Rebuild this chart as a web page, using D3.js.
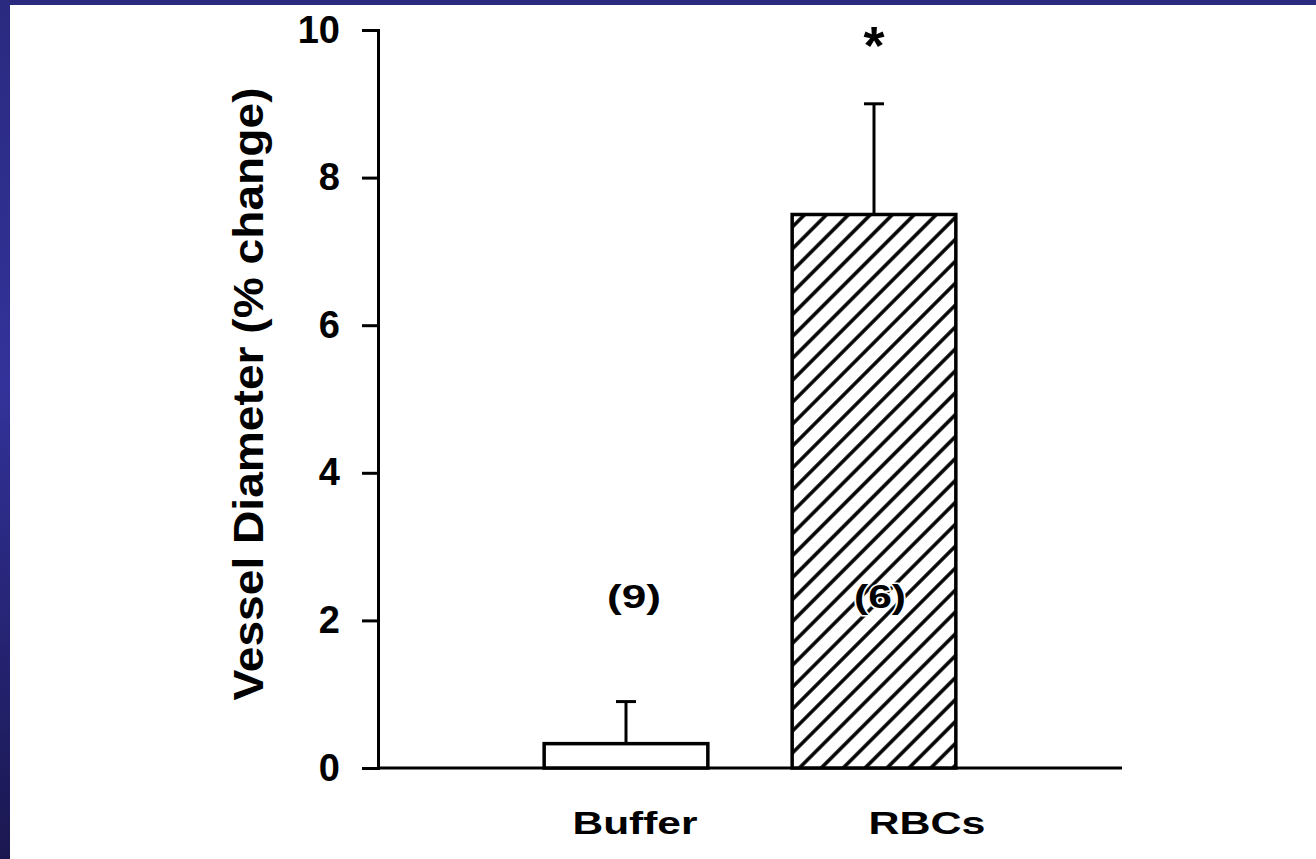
<!DOCTYPE html>
<html>
<head>
<meta charset="utf-8">
<script src="https://cdn.jsdelivr.net/npm/d3@7"></script>
<style>
  html, body { margin: 0; padding: 0; background: #fff; }
  svg { display: block; }
  text { font-family: Arial, "Liberation Sans", sans-serif; font-weight: bold; fill: #000; }
</style>
</head>
<body>
<script>
// ---------------------
// chart data
// ---------------------
var groups = ["Buffer", "RBCs"];
var means = [0.33, 7.5];
var errors = [0.57, 1.5];
var counts = ["(9)", "(6)"];
var stars = ["", "*"];
var yTicks = [0, 2, 4, 6, 8, 10];

var w = 1316, h = 859;

var svg = d3.select("body").append("svg")
  .attr("width", w)
  .attr("height", h);

var defs = svg.append("defs");

// blue frame gradient on the left side
var grad = defs.append("linearGradient")
  .attr("id", "leftgrad")
  .attr("x1", 0).attr("y1", 0).attr("x2", 0).attr("y2", 1);
grad.append("stop").attr("offset", "0%").attr("stop-color", "#2a2a80");
grad.append("stop").attr("offset", "45%").attr("stop-color", "#32329a");
grad.append("stop").attr("offset", "100%").attr("stop-color", "#1a1750");

var pw = 15.5;
var hatch = defs.append("pattern")
  .attr("id", "hatch")
  .attr("patternUnits", "userSpaceOnUse")
  .attr("width", pw)
  .attr("height", pw)
  .attr("patternTransform", "rotate(45)");
hatch.append("rect").attr("width", pw).attr("height", pw).attr("fill", "#fff");
hatch.append("line")
  .attr("x1", pw / 2).attr("y1", 0).attr("x2", pw / 2).attr("y2", pw)
  .attr("stroke", "#000").attr("stroke-width", 3.5);

svg.append("rect").attr("x", 0).attr("y", 0).attr("width", w).attr("height", 5).attr("fill", "#2a2a7e");
svg.append("rect").attr("x", 0).attr("y", 0).attr("width", 10).attr("height", h).attr("fill", "url(#leftgrad)");

// scales
var x = d3.scaleLinear().domain([0, 3]).range([378, 1122]);
var y = d3.scaleLinear().domain([0, 10]).range([768, 30]);
var barW = x(0.66) - x(0);

// y axis
var yAxis = d3.axisLeft(y)
  .tickValues(yTicks)
  .tickSize(16)
  .tickPadding(22)
  .tickFormat(d3.format("d"));

var gy = svg.append("g")
  .attr("transform", "translate(" + x(0) + ",0)")
  .call(yAxis);
gy.select(".domain").attr("stroke", "#000").attr("stroke-width", 3);
gy.selectAll(".tick line").attr("stroke", "#000").attr("stroke-width", 3);
gy.selectAll(".tick text")
  .attr("font-size", 38)
  .attr("font-family", "Arial, 'Liberation Sans', sans-serif")
  .attr("font-weight", "bold");

// baseline
svg.append("line")
  .attr("x1", x(0)).attr("x2", x(3))
  .attr("y1", y(0)).attr("y2", y(0))
  .attr("stroke", "#000").attr("stroke-width", 3);

// error bars
var eb = svg.selectAll(".err")
  .data(groups)
  .enter().append("g").attr("class", "err");
eb.append("line")
  .attr("x1", function(d, i) { return x(i + 1); })
  .attr("x2", function(d, i) { return x(i + 1); })
  .attr("y1", function(d, i) { return y(means[i]); })
  .attr("y2", function(d, i) { return y(means[i] + errors[i]); })
  .attr("stroke", "#000").attr("stroke-width", 3);
eb.append("line")
  .attr("x1", function(d, i) { return x(i + 1) - 10; })
  .attr("x2", function(d, i) { return x(i + 1) + 10; })
  .attr("y1", function(d, i) { return y(means[i] + errors[i]); })
  .attr("y2", function(d, i) { return y(means[i] + errors[i]); })
  .attr("stroke", "#000").attr("stroke-width", 3);

// bars
svg.selectAll(".bar")
  .data(groups)
  .enter().append("rect")
  .attr("class", "bar")
  .attr("x", function(d, i) { return x(i + 1) - barW / 2; })
  .attr("width", barW)
  .attr("y", function(d, i) { return y(means[i]); })
  .attr("height", function(d, i) { return y(0) - y(means[i]); })
  .attr("fill", function(d, i) { return i == 0 ? "#fff" : "url(#hatch)"; })
  .attr("stroke", "#000")
  .attr("stroke-width", 3.5);

// n labels (white halo so the hatch breaks around the text)
var countLen = [54, 52];
svg.selectAll(".count")
  .data(counts)
  .enter().append("text")
  .attr("class", "count")
  .attr("x", function(d, i) { return x(i + 1) + (i == 0 ? 8 : 6); })
  .attr("y", y(2.2) + 2)
  .attr("text-anchor", "middle")
  .attr("font-size", 34)
  .attr("textLength", function(d, i) { return countLen[i]; })
  .attr("lengthAdjust", "spacingAndGlyphs")
  .attr("stroke", "#fff")
  .attr("stroke-width", 3)
  .attr("paint-order", "stroke")
  .text(function(d) { return d; });

// significance star
svg.selectAll(".star")
  .data(stars)
  .enter().append("text")
  .attr("class", "star")
  .attr("x", function(d, i) { return x(i + 1); })
  .attr("y", 64)
  .attr("text-anchor", "middle")
  .attr("font-size", 54)
  .text(function(d) { return d; });

// category labels
var labOff = [9, 53];
var labLen = [125, 117];
svg.selectAll(".cat")
  .data(groups)
  .enter().append("text")
  .attr("class", "cat")
  .attr("x", function(d, i) { return x(i + 1) + labOff[i]; })
  .attr("y", 834)
  .attr("text-anchor", "middle")
  .attr("font-size", 32)
  .attr("textLength", function(d, i) { return labLen[i]; })
  .attr("lengthAdjust", "spacingAndGlyphs")
  .text(function(d) { return d; });

// y title
svg.append("text")
  .attr("transform", "translate(263,394) rotate(-90)")
  .attr("text-anchor", "middle")
  .attr("font-size", 42)
  .attr("textLength", 613)
  .attr("lengthAdjust", "spacingAndGlyphs")
  .text("Vessel Diameter (% change)");
</script>
</body>
</html>
